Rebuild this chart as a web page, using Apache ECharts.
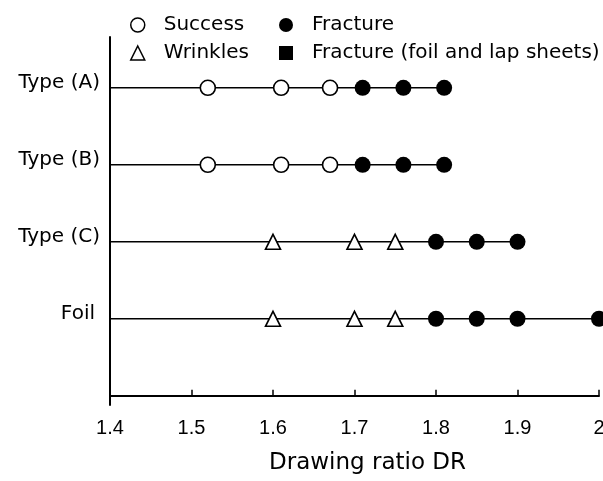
<!DOCTYPE html>
<html>
<head>
<meta charset="utf-8">
<script src="https://cdn.jsdelivr.net/npm/echarts@6/dist/echarts.min.js"></script>
<style>html,body{margin:0;padding:0;background:#fff;}#c{width:603px;height:481px;}</style>
</head>
<body>
<div id="c"></div>
<script>
// Row categories (y positions 4..1 from top)
var rowNames = ['Type (A)', 'Type (B)', 'Type (C)', 'Foil'];
var rowPos = [4, 3, 2, 1];
// Drawing ratios per row
var successA = [1.52, 1.61, 1.67];
var fractureA = [1.71, 1.76, 1.81];
var successB = [1.52, 1.61, 1.67];
var fractureB = [1.71, 1.76, 1.81];
var wrinklesC = [1.60, 1.70, 1.75];
var fractureC = [1.80, 1.85, 1.90];
var wrinklesFoil = [1.60, 1.70, 1.75];
var fractureFoil = [1.80, 1.85, 1.90, 2.00];
var xTicks = ['1.4', '1.5', '1.6', '1.7', '1.8', '1.9', '2'];
var xMin = 1.4, xMax = 2.0;

var FONT = '"DejaVu Sans", sans-serif';
var TICKFONT = '"Liberation Sans", sans-serif';

function pts(vals, y) { return vals.map(function (v) { return [v, y]; }); }
function rowLine(all, y) {
  var last = Math.max.apply(null, all);
  return [[xMin, y], [last, y]];
}

var rows = [
  { y: rowPos[0], success: successA, wrinkles: [], fracture: fractureA },
  { y: rowPos[1], success: successB, wrinkles: [], fracture: fractureB },
  { y: rowPos[2], success: [], wrinkles: wrinklesC, fracture: fractureC },
  { y: rowPos[3], success: [], wrinkles: wrinklesFoil, fracture: fractureFoil }
];

var series = [];
rows.forEach(function (r) {
  series.push({
    type: 'line', data: rowLine(r.success.concat(r.wrinkles, r.fracture), r.y),
    symbol: 'none', lineStyle: { color: '#000', width: 1.6 }, silent: true, z: 1, clip: false
  });
});
var sData = [], wData = [], fData = [];
rows.forEach(function (r) {
  sData = sData.concat(pts(r.success, r.y));
  wData = wData.concat(pts(r.wrinkles, r.y));
  fData = fData.concat(pts(r.fracture, r.y));
});
series.push({
  name: 'Success', type: 'scatter', data: sData, symbol: 'circle', symbolSize: 15, clip: false,
  itemStyle: { color: '#fff', borderColor: '#000', borderWidth: 1.6, opacity: 1 }, z: 3
});
series.push({
  name: 'Wrinkles', type: 'scatter', data: wData, symbol: 'triangle', symbolSize: 15, clip: false,
  itemStyle: { color: '#fff', borderColor: '#000', borderWidth: 1.6, opacity: 1 }, z: 3
});
series.push({
  name: 'Fracture', type: 'scatter', data: fData, symbol: 'circle', symbolSize: 16, clip: false,
  itemStyle: { color: '#000', borderWidth: 0, opacity: 1 }, z: 3
});
series.push({
  name: 'Fracture (foil and lap sheets)', type: 'scatter', data: [], symbol: 'rect', symbolSize: 12,
  itemStyle: { color: '#000', opacity: 1 }
});

var chart = echarts.init(document.getElementById('c'), null, { renderer: 'canvas' });
chart.setOption({
  animation: false,
  backgroundColor: '#fff',
  textStyle: { fontFamily: FONT },
  legend: [
    {
      data: [
        { name: 'Success', icon: 'circle', itemStyle: { color: '#fff', borderColor: '#000', borderWidth: 1.5, opacity: 1 } },
        { name: 'Wrinkles', icon: 'triangle', itemStyle: { color: '#fff', borderColor: '#000', borderWidth: 1.5, opacity: 1 } }
      ],
      orient: 'vertical', left: 125, top: 10, itemGap: 8, itemWidth: 14, itemHeight: 14,
      selectedMode: false,
      textStyle: { fontFamily: FONT, fontSize: 20, lineHeight: 20, color: '#000', padding: [0, 0, 0, 14] }
    },
    {
      data: [
        { name: 'Fracture', icon: 'circle', itemStyle: { color: '#000', opacity: 1 } },
        { name: 'Fracture (foil and lap sheets)', icon: 'rect', itemStyle: { color: '#000', opacity: 1 } }
      ],
      orient: 'vertical', left: 274, top: 10, itemGap: 8, itemWidth: 14, itemHeight: 14,
      selectedMode: false,
      textStyle: { fontFamily: FONT, fontSize: 20, lineHeight: 20, color: '#000', padding: [0, 0, 0, 14] }
    }
  ],
  grid: { left: 110, right: 4, top: 37, bottom: 76, containLabel: false, outerBoundsMode: 'none' },
  xAxis: {
    type: 'value', min: xMin, max: xMax, interval: 0.1,
    axisLine: { show: true, lineStyle: { color: '#000', width: 2 } },
    axisTick: { show: true, inside: true, length: 6, lineStyle: { color: '#000', width: 1.5 } },
    splitLine: { show: false },
    axisLabel: {
      color: '#000', fontSize: 20, fontFamily: TICKFONT, margin: 13, showMaxLabel: true,
      hideOverlap: false,
      formatter: function (v) { return xTicks[Math.round((v - xMin) * 10)]; }
    },
    name: 'Drawing ratio DR', nameLocation: 'middle', nameGap: 47,
    nameTextStyle: { color: '#000', fontSize: 23, fontFamily: FONT, padding: [0, 0, 0, 26] }
  },
  yAxis: {
    type: 'value', min: -0.12, max: 4.66,
    axisLine: { show: true, lineStyle: { color: '#000', width: 2 } },
    axisTick: { show: false },
    splitLine: { show: false },
    axisLabel: {
      customValues: rowPos,
      color: '#000', fontSize: 20, fontFamily: FONT, margin: 10,
      padding: [0, 0, 10, 0],
      formatter: function (v) {
        var i = rowPos.indexOf(Math.round(v));
        if (i < 0) return '';
        return rowNames[i] === 'Foil' ? '{f|Foil}' : rowNames[i];
      },
      rich: { f: { fontSize: 20, fontFamily: FONT, color: '#000', padding: [0, 5, 0, 0] } }
    }
  },
  series: series
});
</script>
</body>
</html>
